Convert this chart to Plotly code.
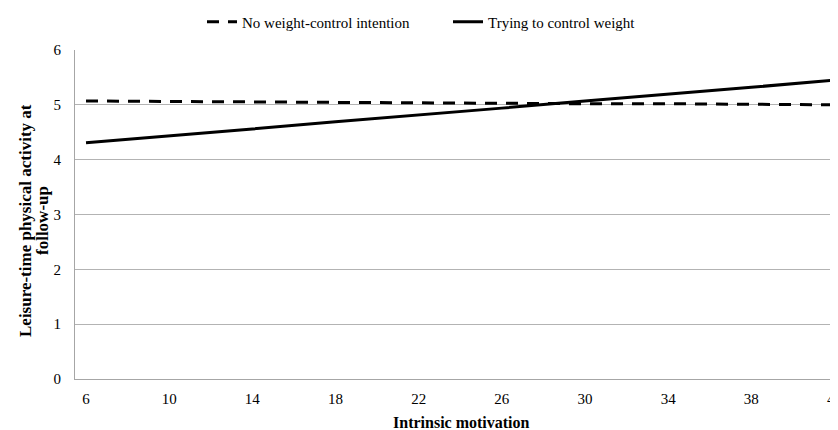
import plotly.graph_objects as go

motivation = [6, 10, 14, 18, 22, 26, 30, 34, 38, 42]
no_intention = [5.07, 5.06, 5.05, 5.05, 5.04, 5.03, 5.02, 5.02, 5.01, 5.00]
trying_control = [4.31, 4.43, 4.56, 4.69, 4.81, 4.94, 5.07, 5.19, 5.32, 5.45]
x_ticks = [6, 10, 14, 18, 22, 26, 30, 34, 38, 42]
y_ticks = [0, 1, 2, 3, 4, 5, 6]

FONT = "Liberation Serif, Times New Roman, serif"
W, H = 830, 422  # page body has an 8px margin
L, T, B = 67, 42, 51
PW, PH = W - L, H - T - B


def px_x(px):
    return (px - L) / PW


def px_y(py):
    return (H - B - py) / PH


fig = go.Figure()
fig.add_trace(go.Scatter(
    x=motivation, y=no_intention, mode="lines",
    name="No weight-control intention", legend="legend",
    line=dict(color="black", width=3, dash="12px,9px"),
))
fig.add_trace(go.Scatter(
    x=motivation, y=trying_control, mode="lines",
    name="Trying to control weight", legend="legend2",
    line=dict(color="black", width=3),
))

leg_common = dict(font=dict(family=FONT, size=15), bgcolor="rgba(0,0,0,0)",
                  xref="container", yref="container", xanchor="left", yanchor="middle",
                  y=1 - 14 / H)

title_font = dict(family=FONT, size=17, color="black")

fig.update_layout(
    width=W, height=H,
    margin=dict(l=L, r=0, t=T, b=B, autoexpand=False),
    paper_bgcolor="white", plot_bgcolor="white",
    font=dict(family=FONT, size=15, color="black"),
    showlegend=True,
    legend=dict(x=194 / W, **leg_common),
    legend2=dict(x=440 / W, **leg_common),
    xaxis=dict(
        range=[5.47, 42.17], tickmode="array", tickvals=x_ticks,
        showgrid=False, zeroline=False, showline=True, linecolor="#a6a6a6", linewidth=1,
        ticks="", ticklabelstandoff=6, ticklabeloverflow="allow",
        tickfont=dict(family=FONT, size=15),
    ),
    yaxis=dict(
        range=[0, 6], tickmode="array", tickvals=y_ticks,
        showgrid=True, gridcolor="#b3b3b3", gridwidth=1,
        zeroline=False, showline=True, linecolor="#a6a6a6", linewidth=1,
        ticks="", ticklabelstandoff=10,
        tickfont=dict(family=FONT, size=15),
    ),
    annotations=[
        dict(text="<b>Intrinsic motivation</b>", xref="paper", yref="paper",
             x=px_x(453), y=px_y(414), xanchor="center", yanchor="middle",
             showarrow=False, font=dict(family=FONT, size=16, color="black")),
        dict(text="<b>Leisure-time physical activity at</b>", xref="paper", yref="paper",
             x=px_x(17), y=px_y(213), xanchor="center", yanchor="middle", textangle=-90,
             showarrow=False, font=title_font),
        dict(text="<b>follow-up</b>", xref="paper", yref="paper",
             x=px_x(34), y=px_y(213), xanchor="center", yanchor="middle", textangle=-90,
             showarrow=False, font=title_font),
    ],
)

fig.write_html("out.html")
